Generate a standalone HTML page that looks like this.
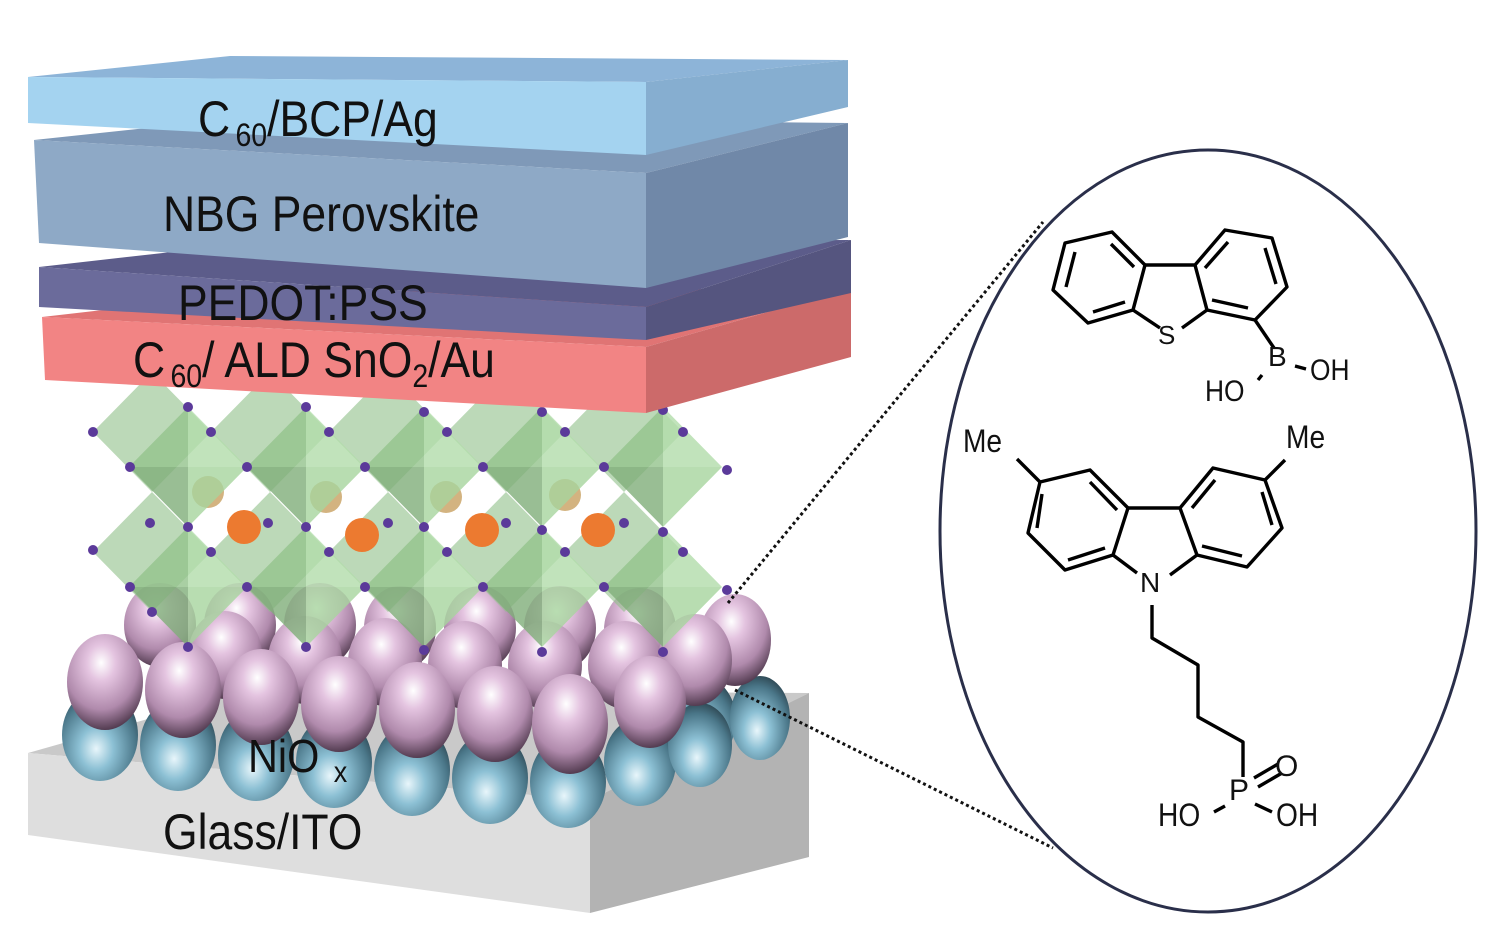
<!DOCTYPE html>
<html><head><meta charset="utf-8"><style>
html,body{margin:0;padding:0;background:#fff;}
svg{display:block;}
.lbl{font-family:"Liberation Sans",Arial,sans-serif;fill:#111;}
</style></head><body>
<svg width="1502" height="931" viewBox="0 0 1502 931" xmlns="http://www.w3.org/2000/svg">
<defs>
<radialGradient id="pk" cx="0.45" cy="0.3" r="0.75">
<stop offset="0" stop-color="#ffffff"/><stop offset="0.25" stop-color="#e4c4e0"/><stop offset="0.65" stop-color="#b08aac"/><stop offset="1" stop-color="#3e2a3c"/></radialGradient>
<radialGradient id="tl" cx="0.45" cy="0.65" r="0.75">
<stop offset="0" stop-color="#e8f6fb"/><stop offset="0.3" stop-color="#8cc0d4"/><stop offset="0.7" stop-color="#4a7688"/><stop offset="1" stop-color="#1e2e36"/></radialGradient>
</defs>

<!-- Glass -->
<polygon points="28,753 250,690 809,693 590,800" fill="#c9c9c9"/>
<polygon points="28,753 590,800 590,913 28,835" fill="#dedede"/>
<polygon points="590,800 809,693 809,857 590,913" fill="#b3b3b3"/>

<!-- teal spheres -->
<g>
<ellipse cx="700" cy="720" rx="36" ry="44" fill="url(#tl)"/>
<ellipse cx="760" cy="718" rx="30" ry="42" fill="url(#tl)"/>
<ellipse cx="100" cy="735" rx="38" ry="46" fill="url(#tl)"/>
<ellipse cx="178" cy="745" rx="38" ry="46" fill="url(#tl)"/>
<ellipse cx="256" cy="755" rx="38" ry="46" fill="url(#tl)"/>
<ellipse cx="334" cy="762" rx="38" ry="46" fill="url(#tl)"/>
<ellipse cx="412" cy="770" rx="38" ry="46" fill="url(#tl)"/>
<ellipse cx="490" cy="778" rx="38" ry="46" fill="url(#tl)"/>
<ellipse cx="568" cy="782" rx="38" ry="46" fill="url(#tl)"/>
<ellipse cx="640" cy="762" rx="36" ry="44" fill="url(#tl)"/>
<ellipse cx="700" cy="745" rx="32" ry="42" fill="url(#tl)"/>
</g>

<!-- pink spheres -->
<g>
<ellipse cx="160" cy="625" rx="36" ry="42" fill="url(#pk)"/>
<ellipse cx="240" cy="625" rx="36" ry="42" fill="url(#pk)"/>
<ellipse cx="320" cy="625" rx="36" ry="42" fill="url(#pk)"/>
<ellipse cx="400" cy="628" rx="36" ry="42" fill="url(#pk)"/>
<ellipse cx="480" cy="628" rx="36" ry="42" fill="url(#pk)"/>
<ellipse cx="560" cy="628" rx="36" ry="42" fill="url(#pk)"/>
<ellipse cx="640" cy="630" rx="36" ry="42" fill="url(#pk)"/>
<ellipse cx="735" cy="640" rx="36" ry="46" fill="url(#pk)"/>
<ellipse cx="225" cy="655" rx="37" ry="44" fill="url(#pk)"/>
<ellipse cx="305" cy="660" rx="37" ry="44" fill="url(#pk)"/>
<ellipse cx="385" cy="662" rx="37" ry="44" fill="url(#pk)"/>
<ellipse cx="465" cy="665" rx="37" ry="44" fill="url(#pk)"/>
<ellipse cx="545" cy="665" rx="37" ry="44" fill="url(#pk)"/>
<ellipse cx="625" cy="665" rx="37" ry="44" fill="url(#pk)"/>
<ellipse cx="695" cy="660" rx="37" ry="46" fill="url(#pk)"/>
<ellipse cx="105" cy="682" rx="38" ry="48" fill="url(#pk)"/>
<ellipse cx="183" cy="690" rx="38" ry="48" fill="url(#pk)"/>
<ellipse cx="261" cy="697" rx="38" ry="48" fill="url(#pk)"/>
<ellipse cx="339" cy="704" rx="38" ry="48" fill="url(#pk)"/>
<ellipse cx="417" cy="710" rx="38" ry="48" fill="url(#pk)"/>
<ellipse cx="495" cy="714" rx="38" ry="48" fill="url(#pk)"/>
<ellipse cx="570" cy="724" rx="38" ry="50" fill="url(#pk)"/>
<ellipse cx="650" cy="702" rx="36" ry="46" fill="url(#pk)"/>
</g>

<!-- back octahedra lattice -->
<g fill="#8fbf88" fill-opacity="0.6" stroke="none">
<polygon points="152,372 211,432 152,492 93,432"/><polygon points="270,372 329,432 270,492 211,432"/><polygon points="388,372 447,432 388,492 329,432"/><polygon points="506,372 565,432 506,492 447,432"/><polygon points="624,372 683,432 624,492 565,432"/>
<polygon points="152,492 211,552 152,612 93,552"/><polygon points="270,492 329,552 270,612 211,552"/><polygon points="388,492 447,552 388,612 329,552"/><polygon points="506,492 565,552 506,612 447,552"/><polygon points="624,492 683,552 624,612 565,552"/>
</g>
<g fill="#c8a060" fill-opacity="0.8">
<circle cx="208" cy="492" r="16"/><circle cx="326" cy="497" r="16"/><circle cx="446" cy="497" r="16"/><circle cx="565" cy="495" r="16"/>
</g>
<g fill="#ec7a30">
<circle cx="244" cy="527" r="17"/><circle cx="362" cy="535" r="17"/><circle cx="482" cy="530" r="17"/><circle cx="598" cy="530" r="17"/>
</g>
<g>
<polygon points="188,407 247,467 188,467" fill="#b2dcaa" fill-opacity="0.8"/><polygon points="188,407 129,467 188,467" fill="#93c38c" fill-opacity="0.8"/><polygon points="129,467 188,527 188,467" fill="#7fae79" fill-opacity="0.8"/><polygon points="247,467 188,527 188,467" fill="#a6d49e" fill-opacity="0.8"/>
<polygon points="306,407 365,467 306,467" fill="#b2dcaa" fill-opacity="0.8"/><polygon points="306,407 247,467 306,467" fill="#93c38c" fill-opacity="0.8"/><polygon points="247,467 306,527 306,467" fill="#7fae79" fill-opacity="0.8"/><polygon points="365,467 306,527 306,467" fill="#a6d49e" fill-opacity="0.8"/>
<polygon points="424,407 483,467 424,467" fill="#b2dcaa" fill-opacity="0.8"/><polygon points="424,407 365,467 424,467" fill="#93c38c" fill-opacity="0.8"/><polygon points="365,467 424,527 424,467" fill="#7fae79" fill-opacity="0.8"/><polygon points="483,467 424,527 424,467" fill="#a6d49e" fill-opacity="0.8"/>
<polygon points="542,407 601,467 542,467" fill="#b2dcaa" fill-opacity="0.8"/><polygon points="542,407 483,467 542,467" fill="#93c38c" fill-opacity="0.8"/><polygon points="483,467 542,527 542,467" fill="#7fae79" fill-opacity="0.8"/><polygon points="601,467 542,527 542,467" fill="#a6d49e" fill-opacity="0.8"/>
<polygon points="663,407 722,467 663,467" fill="#b2dcaa" fill-opacity="0.8"/><polygon points="663,407 604,467 663,467" fill="#93c38c" fill-opacity="0.8"/><polygon points="604,467 663,527 663,467" fill="#7fae79" fill-opacity="0.8"/><polygon points="722,467 663,527 663,467" fill="#a6d49e" fill-opacity="0.8"/>
<polygon points="188,527 247,587 188,587" fill="#b2dcaa" fill-opacity="0.8"/><polygon points="188,527 129,587 188,587" fill="#93c38c" fill-opacity="0.8"/><polygon points="129,587 188,647 188,587" fill="#7fae79" fill-opacity="0.8"/><polygon points="247,587 188,647 188,587" fill="#a6d49e" fill-opacity="0.8"/>
<polygon points="306,527 365,587 306,587" fill="#b2dcaa" fill-opacity="0.8"/><polygon points="306,527 247,587 306,587" fill="#93c38c" fill-opacity="0.8"/><polygon points="247,587 306,647 306,587" fill="#7fae79" fill-opacity="0.8"/><polygon points="365,587 306,647 306,587" fill="#a6d49e" fill-opacity="0.8"/>
<polygon points="424,527 483,587 424,587" fill="#b2dcaa" fill-opacity="0.8"/><polygon points="424,527 365,587 424,587" fill="#93c38c" fill-opacity="0.8"/><polygon points="365,587 424,647 424,587" fill="#7fae79" fill-opacity="0.8"/><polygon points="483,587 424,647 424,587" fill="#a6d49e" fill-opacity="0.8"/>
<polygon points="542,527 601,587 542,587" fill="#b2dcaa" fill-opacity="0.8"/><polygon points="542,527 483,587 542,587" fill="#93c38c" fill-opacity="0.8"/><polygon points="483,587 542,647 542,587" fill="#7fae79" fill-opacity="0.8"/><polygon points="601,587 542,647 542,587" fill="#a6d49e" fill-opacity="0.8"/>
<polygon points="663,527 722,587 663,587" fill="#b2dcaa" fill-opacity="0.8"/><polygon points="663,527 604,587 663,587" fill="#93c38c" fill-opacity="0.8"/><polygon points="604,587 663,647 663,587" fill="#7fae79" fill-opacity="0.8"/><polygon points="722,587 663,647 663,587" fill="#a6d49e" fill-opacity="0.8"/>
</g>
<g fill="#5b3a9a">
<circle cx="93" cy="432" r="5"/><circle cx="93" cy="550" r="5"/><circle cx="130" cy="467" r="5"/><circle cx="130" cy="587" r="5"/><circle cx="150" cy="523" r="5"/><circle cx="152" cy="612" r="5"/>
<circle cx="188" cy="407" r="5"/><circle cx="188" cy="527" r="5"/><circle cx="188" cy="647" r="5"/><circle cx="211" cy="432" r="5"/><circle cx="211" cy="552" r="5"/>
<circle cx="247" cy="467" r="5"/><circle cx="247" cy="587" r="5"/><circle cx="268" cy="523" r="5"/>
<circle cx="306" cy="407" r="5"/><circle cx="306" cy="527" r="5"/><circle cx="306" cy="647" r="5"/><circle cx="329" cy="432" r="5"/><circle cx="329" cy="552" r="5"/>
<circle cx="365" cy="467" r="5"/><circle cx="365" cy="587" r="5"/><circle cx="388" cy="523" r="5"/>
<circle cx="424" cy="412" r="5"/><circle cx="424" cy="527" r="5"/><circle cx="424" cy="650" r="5"/><circle cx="447" cy="432" r="5"/><circle cx="447" cy="552" r="5"/>
<circle cx="483" cy="467" r="5"/><circle cx="483" cy="587" r="5"/><circle cx="506" cy="523" r="5"/>
<circle cx="542" cy="412" r="5"/><circle cx="542" cy="530" r="5"/><circle cx="542" cy="652" r="5"/><circle cx="565" cy="432" r="5"/><circle cx="565" cy="552" r="5"/>
<circle cx="604" cy="467" r="5"/><circle cx="604" cy="587" r="5"/><circle cx="624" cy="523" r="5"/>
<circle cx="663" cy="410" r="5"/><circle cx="663" cy="532" r="5"/><circle cx="663" cy="652" r="5"/><circle cx="683" cy="432" r="5"/><circle cx="683" cy="552" r="5"/>
<circle cx="727" cy="470" r="5"/><circle cx="727" cy="590" r="5"/>
</g>

<!-- Layer 4 red -->
<polygon points="42,317 646,347 851,288 260,292" fill="#e07474"/>
<polygon points="42,317 646,347 646,413 45,380" fill="#f28484"/>
<polygon points="646,347 851,288 851,357 646,413" fill="#cc6a6a"/>
<!-- Layer 3 PEDOT -->
<polygon points="39,267 646,307 851,240 260,242" fill="#5c5c8a"/>
<polygon points="39,267 646,307 646,340 39,307" fill="#6b6b9b"/>
<polygon points="646,307 851,240 851,293 646,340" fill="#55557f"/>
<!-- Layer 2 NBG -->
<polygon points="34,140 646,173 848,123 250,117" fill="#7f99b8"/>
<polygon points="34,140 646,173 646,288 39,243" fill="#8ea9c6"/>
<polygon points="646,173 848,123 848,237 646,288" fill="#7088a8"/>
<!-- Layer 1 C60 -->
<polygon points="28,77 646,82 848,60 230,56" fill="#8db4d8"/>
<polygon points="28,77 646,82 646,155 28,123" fill="#a4d3f0"/>
<polygon points="646,82 848,60 848,107 646,155" fill="#86aed0"/>

<!-- layer labels -->
<g class="lbl">
<text x="0" y="0" font-size="50" transform="translate(198,136) scale(0.89,1)">C<tspan font-size="32" dx="6" dy="10">60</tspan><tspan dy="-10">/BCP/Ag</tspan></text>
<text x="0" y="0" font-size="50" transform="translate(163,231) scale(0.89,1)">NBG Perovskite</text>
<text x="0" y="0" font-size="50" transform="translate(178,320) scale(0.89,1)">PEDOT:PSS</text>
<text x="0" y="0" font-size="50" transform="translate(133,377) scale(0.89,1)">C<tspan font-size="32" dx="6" dy="10">60</tspan><tspan dy="-10">/ ALD SnO</tspan><tspan font-size="32" dy="10">2</tspan><tspan dy="-10">/Au</tspan></text>
<text x="0" y="0" font-size="46" transform="translate(248,772) scale(0.9,1)">NiO<tspan font-size="30" dx="16" dy="10">x</tspan></text>
<text x="0" y="0" font-size="50" transform="translate(163,849) scale(0.89,1)">Glass/ITO</text>
</g>

<!-- dotted connectors -->
<line x1="728" y1="603" x2="1043" y2="222" stroke="#111" stroke-width="3" stroke-dasharray="3,3"/>
<line x1="735" y1="690" x2="1053" y2="848" stroke="#111" stroke-width="3" stroke-dasharray="3,3"/>

<!-- oval -->
<ellipse cx="1208" cy="531" rx="268" ry="381" fill="#fff" stroke="#2a2f4a" stroke-width="3"/>

<!-- dibenzothiophene boronic acid -->
<g stroke="#000" stroke-width="3.4" fill="none" stroke-linejoin="round">
<polygon points="1053,290 1065,243 1112,232 1145,265 1133,310 1088,323"/>
<line x1="1066" y1="287" x2="1075" y2="252"/><line x1="1111" y1="244" x2="1134" y2="267"/><line x1="1093" y1="312" x2="1125" y2="302"/>
<polyline points="1145,265 1195,265 1225,230 1272,238 1287,287 1255,320 1207,310 1195,265"/>
<line x1="1228" y1="242" x2="1205" y2="268"/><line x1="1265" y1="248" x2="1276" y2="284"/><line x1="1212" y1="300" x2="1248" y2="308"/>
<line x1="1133" y1="310" x2="1160" y2="328"/><line x1="1207" y1="310" x2="1182" y2="328"/>
<line x1="1255" y1="320" x2="1274" y2="348"/>
<line x1="1295" y1="366" x2="1306" y2="369"/>
<line x1="1258" y1="380" x2="1262" y2="375"/>
</g>
<g class="lbl">
<text x="1158" y="344" font-size="26">S</text>
<text x="1268" y="366" font-size="28">B</text>
<text x="1310" y="380" font-size="30" transform="translate(1310,0) scale(0.88,1) translate(-1310,0)">OH</text>
<text x="1205" y="401" font-size="30" transform="translate(1205,0) scale(0.88,1) translate(-1205,0)">HO</text>
</g>

<!-- carbazole phosphonic acid -->
<g stroke="#000" stroke-width="3.4" fill="none" stroke-linejoin="round">
<polygon points="1040,482 1090,470 1128,508 1113,555 1065,570 1028,533"/>
<line x1="1042" y1="494" x2="1037" y2="528"/><line x1="1090" y1="482" x2="1117" y2="510"/><line x1="1068" y1="560" x2="1105" y2="548"/>
<polyline points="1128,508 1180,508 1213,468 1265,480 1282,528 1247,567 1197,555 1180,508"/>
<line x1="1215" y1="480" x2="1192" y2="508"/><line x1="1262" y1="492" x2="1272" y2="525"/><line x1="1202" y1="546" x2="1242" y2="556"/>
<line x1="1040" y1="482" x2="1017" y2="459"/><line x1="1265" y1="480" x2="1285" y2="460"/>
<line x1="1113" y1="555" x2="1137" y2="573"/><line x1="1197" y1="555" x2="1170" y2="575"/>
<polyline points="1152,605 1152,638 1198,665 1198,717 1243,742 1243,777"/>
<line x1="1214" y1="812" x2="1225" y2="806"/>
<line x1="1255" y1="804" x2="1272" y2="812"/>
<line x1="1254" y1="778" x2="1278" y2="764"/><line x1="1258" y1="787" x2="1282" y2="773"/>
</g>
<g class="lbl">
<text x="963" y="452" font-size="32" transform="translate(963,0) scale(0.88,1) translate(-963,0)">Me</text>
<text x="1286" y="448" font-size="32" transform="translate(1286,0) scale(0.88,1) translate(-1286,0)">Me</text>
<text x="1140" y="592" font-size="28">N</text>
<text x="1229" y="800" font-size="30">P</text>
<text x="1275" y="776" font-size="30">O</text>
<text x="1158" y="826" font-size="32" transform="translate(1158,0) scale(0.88,1) translate(-1158,0)">HO</text>
<text x="1276" y="826" font-size="32" transform="translate(1276,0) scale(0.88,1) translate(-1276,0)">OH</text>
</g>
</svg>
</body></html>
